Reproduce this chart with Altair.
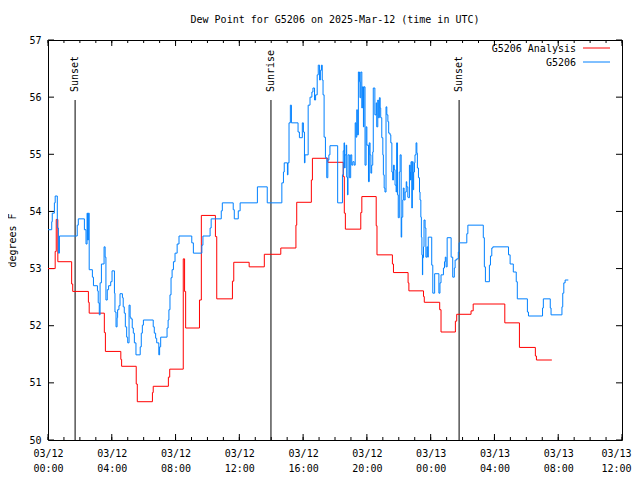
import altair as alt
import pandas as pd

# ---------------- data (minutes after 2025-03-12 00:00 UTC, degrees F) ----------------
obs_series = [
    (0, 53.68), (14, 53.82), (16, 53.97), (24, 54.15), (27, 54.27), (35, 53.71), (39, 53.27),
    (43, 53.57), (110, 53.76), (114, 53.87), (137, 53.68), (143, 53.43), (147, 53.97),
    (149, 53.50), (152, 53.97), (155, 52.98), (167, 52.85), (171, 52.70), (186, 52.61),
    (189, 52.40), (193, 52.19), (196, 52.75), (201, 53.08), (211, 53.38), (215, 53.20),
    (218, 52.45), (223, 52.63), (228, 52.70), (236, 52.77), (241, 52.96), (250, 52.57),
    (252, 52.24), (256, 51.98), (260, 52.14), (262, 52.28), (267, 52.35), (271, 52.56),
    (280, 52.49), (283, 52.33), (287, 52.22), (291, 51.98), (296, 51.80), (300, 51.70),
    (305, 52.36), (309, 52.15), (312, 52.12), (317, 51.96), (321, 51.87), (325, 51.70),
    (331, 51.49), (347, 51.63), (351, 51.87), (355, 52.01), (359, 52.10), (396, 51.98),
    (400, 51.87), (405, 51.78), (409, 51.70), (417, 51.49), (420, 51.63), (424, 51.80),
    (448, 51.96), (452, 52.10), (455, 52.28), (459, 52.54), (463, 52.84), (467, 52.98),
    (472, 53.12), (478, 53.27), (486, 53.43), (493, 53.57), (541, 53.45), (547, 53.27),
    (579, 53.41), (583, 53.57), (610, 53.71), (614, 53.87), (652, 54.01), (656, 54.15),
    (697, 54.03), (701, 53.87), (716, 54.01), (723, 54.15), (788, 54.43), (825, 54.15),
    (880, 54.50), (886, 54.69), (889, 54.85), (901, 54.64), (903, 54.85), (907, 55.55),
    (912, 55.86), (916, 55.55), (941, 55.39), (946, 55.29), (957, 55.55), (961, 55.39),
    (965, 54.85), (967, 54.99), (979, 55.86), (986, 56.00), (993, 56.09), (997, 56.16),
    (1003, 55.95), (1007, 56.04), (1013, 56.39), (1017, 56.56), (1022, 56.30), (1025, 56.47),
    (1029, 56.56), (1032, 56.30), (1035, 56.04), (1039, 55.30), (1044, 54.94), (1049, 54.59),
    (1053, 54.90), (1057, 54.99), (1061, 55.15), (1090, 54.15), (1108, 54.64), (1111, 55.06),
    (1114, 55.20), (1116, 54.76), (1118, 54.99), (1122, 55.16), (1124, 54.60), (1127, 54.29),
    (1129, 54.99), (1134, 54.59), (1139, 54.99), (1143, 54.81), (1147, 54.87), (1152, 54.81),
    (1156, 55.55), (1159, 55.30), (1162, 55.78), (1164, 55.34), (1168, 56.44), (1172, 56.27),
    (1174, 55.99), (1177, 56.44), (1181, 55.81), (1183, 56.18), (1187, 55.48), (1189, 56.18),
    (1193, 54.81), (1197, 55.48), (1200, 55.16), (1206, 54.52), (1209, 55.20), (1212, 54.99),
    (1215, 54.67), (1218, 54.81), (1222, 55.04), (1224, 56.16), (1230, 55.69), (1235, 55.90),
    (1237, 55.48), (1241, 55.95), (1243, 55.64), (1247, 55.99), (1250, 55.81), (1252, 55.64),
    (1256, 55.29), (1260, 54.99), (1262, 54.64), (1265, 54.41), (1268, 54.34), (1272, 55.83),
    (1275, 55.69), (1279, 55.57), (1282, 55.37), (1287, 55.34), (1290, 55.20), (1294, 54.69),
    (1297, 54.55), (1300, 54.81), (1303, 54.73), (1306, 54.46), (1310, 54.34), (1312, 55.20),
    (1315, 54.29), (1318, 53.89), (1322, 54.69), (1325, 54.99), (1329, 53.55), (1331, 53.90),
    (1335, 54.20), (1337, 54.41), (1340, 54.20), (1344, 54.34), (1348, 54.52), (1350, 54.43),
    (1354, 54.25), (1356, 54.24), (1360, 54.81), (1363, 54.69), (1364, 54.55), (1366, 54.87),
    (1369, 54.06), (1371, 54.87), (1374, 54.38), (1376, 54.69), (1379, 54.85), (1381, 54.99),
    (1385, 55.20), (1388, 55.02), (1390, 54.76), (1394, 54.59), (1398, 54.34), (1400, 54.20),
    (1403, 53.90), (1405, 53.55), (1407, 53.24), (1409, 52.89), (1410, 53.19), (1413, 53.38),
    (1415, 53.85), (1419, 53.71), (1422, 53.20), (1426, 53.38), (1429, 53.20), (1431, 53.55),
    (1444, 53.06), (1448, 52.57), (1455, 52.91), (1471, 52.57), (1475, 52.75), (1479, 52.89),
    (1488, 53.01), (1492, 53.12), (1495, 53.20), (1498, 53.03), (1502, 53.54), (1517, 53.20),
    (1523, 52.85), (1529, 53.01), (1532, 53.15), (1538, 53.17), (1544, 53.29), (1547, 53.45),
    (1576, 53.61), (1580, 53.76), (1638, 53.54), (1642, 53.03), (1646, 52.77), (1661, 53.06),
    (1665, 53.22), (1670, 53.36), (1674, 53.38), (1733, 53.24), (1739, 53.08), (1751, 52.94),
    (1762, 52.77), (1766, 52.47), (1804, 52.24), (1808, 52.17), (1861, 52.31), (1864, 52.47),
    (1890, 52.31), (1893, 52.19), (1934, 52.33), (1937, 52.57), (1941, 52.75), (1946, 52.80),
    (1958, 52.80),
]

analysis_series = [
    (0, 53.00), (27, 53.30), (31, 53.86), (37, 53.12), (89, 52.73), (93, 52.60), (152, 52.41),
    (155, 52.22), (212, 51.88), (216, 51.55), (274, 51.41), (277, 51.29), (332, 50.98),
    (336, 50.67), (393, 50.83), (396, 50.94), (453, 51.10), (458, 51.24), (509, 53.17),
    (514, 52.60), (518, 51.96), (570, 52.45), (577, 53.93), (630, 53.56), (635, 52.47),
    (694, 52.78), (699, 53.11), (757, 53.03), (814, 53.25), (876, 53.36), (933, 53.76),
    (936, 54.16), (991, 54.55), (995, 54.93), (1053, 54.86), (1111, 54.61), (1115, 53.97),
    (1119, 53.69), (1177, 53.98), (1181, 54.26), (1235, 53.75), (1238, 53.24), (1296, 53.08),
    (1300, 52.93), (1355, 52.75), (1358, 52.61), (1413, 52.51), (1416, 52.41), (1474, 52.28),
    (1479, 51.89), (1533, 52.08), (1538, 52.20), (1592, 52.26), (1600, 52.38), (1719, 52.05),
    (1774, 51.62), (1834, 51.47), (1838, 51.40), (1896, 51.40),
]

sun_labels = ["Sunset", "Sunrise", "Sunset"]
sun_minutes = [102, 839, 1547]

series_names = ["G5206 Analysis", "G5206"]
series_colors = ["#ff0000", "#0080ff"]

x_major_hours = list(range(0, 37, 4))
x_minor_hours = list(range(0, 37))
y_ticks = list(range(50, 58))

title_text = "Dew Point for G5206 on 2025-Mar-12 (time in UTC)"

# ---------------- chart ----------------
W, H = 574, 400
FONT = "DejaVu Sans Mono"
FS = 10

obs = pd.DataFrame({"h": [m / 60 for m, _ in obs_series], "v": [v for _, v in obs_series]})
ana = pd.DataFrame({"h": [m / 60 for m, _ in analysis_series], "v": [v for _, v in analysis_series]})
sun = pd.DataFrame({"h": [m / 60 for m in sun_minutes], "label": sun_labels})

xscale = alt.Scale(domain=[0, 36], nice=False, zero=False)
yscale = alt.Scale(domain=[50, 57], nice=False, zero=False)

label_expr = ("[(datum.value < 24 ? '03/12' : '03/13'), "
              "((datum.value % 24) < 10 ? '0' : '') + (datum.value % 24) + ':00']")

xaxis = alt.Axis(values=x_major_hours, labelExpr=label_expr, ticks=False, domain=False,
                 grid=False, labelFont=FONT, labelFontSize=FS, labelColor="black",
                 labelPadding=8, labelBaseline="top", labelLineHeight=15,
                 labelAlign={"condition": {"test": "datum.value >= 36", "value": "right"},
                             "value": "center"},
                 labelOffset={"condition": {"test": "datum.value >= 36", "value": 9},
                              "value": 0},
                 labelOverlap=False, labelFlush=False, title=None)
yaxis = alt.Axis(values=y_ticks, format="d", ticks=False, domain=False, grid=False,
                 labelFont=FONT, labelFontSize=FS, labelColor="black", labelPadding=7,
                 title="degrees F", titleFont=FONT, titleFontSize=FS, titleFontWeight="normal",
                 titleColor="black", titleX=-36, titleY=H / 2, titleAngle=270,
                 titleAlign="center", titleBaseline="middle")

X = alt.X("h:Q", scale=xscale, axis=xaxis)
Y = alt.Y("v:Q", scale=yscale, axis=yaxis)

red_line = alt.Chart(ana).mark_line(interpolate="step-after", color=series_colors[0],
                                    strokeWidth=1).encode(x=X, y=Y)
blue_line = alt.Chart(obs).mark_line(interpolate="step-after", color=series_colors[1],
                                     strokeWidth=1).encode(x=X, y=Y)

sun_rule = alt.Chart(sun).mark_rule(color="black", strokeWidth=1).encode(
    x=alt.X("h:Q", scale=xscale), y=alt.value(60), y2=alt.value(H))
sun_text = alt.Chart(sun).mark_text(angle=270, align="left", baseline="middle",
                                    font=FONT, fontSize=FS, color="black").encode(
    x=alt.X("h:Q", scale=xscale), y=alt.value(52), text="label:N")

# tick marks drawn inward (gnuplot style)
xmin = pd.DataFrame({"h": x_minor_hours})
xmaj = pd.DataFrame({"h": x_major_hours})
ydf = pd.DataFrame({"v": y_ticks})
XT = alt.X("h:Q", scale=xscale)
YT = alt.Y("v:Q", scale=yscale)
tick_layers = [
    alt.Chart(xmin).mark_rule(color="black").encode(x=XT, y=alt.value(H), y2=alt.value(H - 3)),
    alt.Chart(xmin).mark_rule(color="black").encode(x=XT, y=alt.value(0), y2=alt.value(3)),
    alt.Chart(xmaj).mark_rule(color="black").encode(x=XT, y=alt.value(H), y2=alt.value(H - 6)),
    alt.Chart(xmaj).mark_rule(color="black").encode(x=XT, y=alt.value(0), y2=alt.value(6)),
    alt.Chart(ydf).mark_rule(color="black").encode(y=YT, x=alt.value(0), x2=alt.value(6)),
    alt.Chart(ydf).mark_rule(color="black").encode(y=YT, x=alt.value(W), x2=alt.value(W - 6)),
]

legend_layers = []
for i, (name, col) in enumerate(zip(series_names, series_colors)):
    ldf = pd.DataFrame({"name": [name]})
    legend_layers.append(
        alt.Chart(ldf).mark_text(align="right", baseline="middle", font=FONT, fontSize=FS,
                                 color="black").encode(
            text="name:N", x=alt.value(528), y=alt.value(9 + 14 * i)))
    legend_layers.append(
        alt.Chart(ldf).mark_rule(color=col, strokeWidth=1).encode(
            x=alt.value(535), x2=alt.value(562), y=alt.value(8 + 14 * i)))

chart = alt.layer(
    *tick_layers, sun_rule, sun_text, red_line, blue_line, *legend_layers
).properties(
    width=W, height=H,
    title=alt.TitleParams(title_text, font=FONT, fontSize=FS, fontWeight="normal",
                          color="black", anchor="middle", offset=10),
    autosize=alt.AutoSizeParams(type="none"),
    padding={"left": 40, "top": 32, "right": 10, "bottom": 32},
).configure_view(stroke="black", strokeWidth=1)

chart.save("out.html", embed_options={"renderer": "svg", "actions": False})
